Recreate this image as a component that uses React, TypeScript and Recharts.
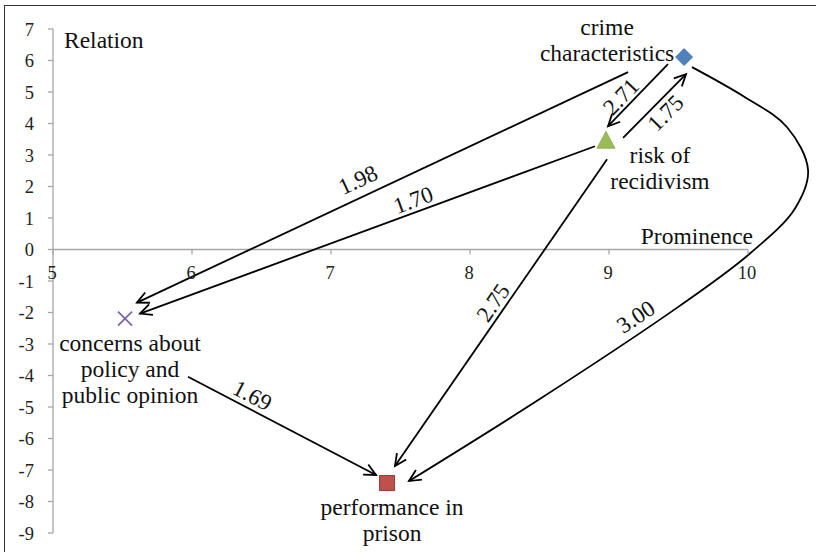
import React from 'react';
import { ComposedChart, XAxis, YAxis, Scatter, Line, ReferenceLine, ReferenceDot } from 'recharts';

// ---- data ----
const nodeNames = ['crime characteristics', 'risk of recidivism', 'concerns about policy and public opinion', 'performance in prison'];
const nodeLabelLines = [
  ['crime', 'characteristics'],
  ['risk of', 'recidivism'],
  ['concerns about', 'policy and', 'public opinion'],
  ['performance in', 'prison'],
];
const prominence = [9.54, 8.978, 5.518, 7.403];
const relation = [6.109, 3.468, -2.195, -7.413];

const xTicks = [5, 6, 7, 8, 9, 10];
const yTicks = [-9, -8, -7, -6, -5, -4, -3, -2, -1, 0, 1, 2, 3, 4, 5, 6, 7];

const edgeLabels = ['2.71', '1.75', '1.98', '1.70', '2.75', '1.69'];
const edgeStartX = [9.424, 9.101, 9.137, 8.899, 8.986, 5.971];
const edgeStartY = [5.886, 3.545, 5.632, 3.277, 2.863, -4.041];
const edgeEndX = [8.993, 9.554, 5.604, 5.626, 7.46, 7.324];
const edgeEndY = [3.913, 5.568, -1.686, -2.036, -6.872, -7.159];

const curveLabel = '3.00';
const curveX = [9.597, 9.978, 10.281, 10.432, 10.338, 10.014, 9.511, 8.482, 7.561];
const curveY = [5.791, 4.836, 3.881, 2.514, 1.304, -0.127, -1.782, -4.804, -7.35];

// ---- styles ----
const FONT = '"Liberation Serif", "Times New Roman", serif';
const AXIS = '#a6a6a6';
const edgeLabelPos = [
  { t: 0.65, d: 11 },
  { t: 0.53, d: -13 },
  { t: 0.535, d: 17 },
  { t: 0.39, d: 12 },
  { t: 0.49, d: 12 },
  { t: 0.31, d: 13 },
];
const nodeStyles = [
  { kind: 'diamond', color: '#4F81BD', dx: -77, dy: -30 },
  { kind: 'triangle', color: '#9BBB59', dx: 54, dy: 15 },
  { kind: 'x', color: '#8064A2', dx: 5, dy: 24 },
  { kind: 'square', color: '#C0504D', dx: 5, dy: 24 },
];

const curveData = curveX.map((x, i) => ({ x, y: curveY[i] }));

// Centripetal Catmull-Rom curve factory (d3-shape compatible interface)
function catmullRom(context: any) {
  let pts: number[][] = [];
  const alpha = 0.5;
  const eps = 1e-6;
  return {
    areaStart() {},
    areaEnd() {},
    lineStart() {
      pts = [];
    },
    point(x: number, y: number) {
      pts.push([+x, +y]);
    },
    lineEnd() {
      if (!pts.length) return;
      context.moveTo(pts[0][0], pts[0][1]);
      for (let i = 0; i < pts.length - 1; i++) {
        const p0 = pts[i - 1] || pts[i];
        const p1 = pts[i];
        const p2 = pts[i + 1];
        const p3 = pts[i + 2] || p2;
        const d01 = Math.hypot(p1[0] - p0[0], p1[1] - p0[1]);
        const d12 = Math.hypot(p2[0] - p1[0], p2[1] - p1[1]);
        const d23 = Math.hypot(p3[0] - p2[0], p3[1] - p2[1]);
        const l01a = Math.pow(d01, alpha);
        const l12a = Math.pow(d12, alpha);
        const l23a = Math.pow(d23, alpha);
        const l01 = l01a * l01a;
        const l12 = l12a * l12a;
        const l23 = l23a * l23a;
        let c1x = p1[0];
        let c1y = p1[1];
        let c2x = p2[0];
        let c2y = p2[1];
        if (l01a > eps) {
          const a = 2 * l01 + 3 * l01a * l12a + l12;
          const n = 3 * l01a * (l01a + l12a);
          c1x = (p1[0] * a - p0[0] * l12 + p2[0] * l01) / n;
          c1y = (p1[1] * a - p0[1] * l12 + p2[1] * l01) / n;
        }
        if (l23a > eps) {
          const b = 2 * l23 + 3 * l23a * l12a + l12;
          const m = 3 * l23a * (l23a + l12a);
          c2x = (p2[0] * b + p1[0] * l23 - p3[0] * l12) / m;
          c2y = (p2[1] * b + p1[1] * l23 - p3[1] * l12) / m;
        }
        context.bezierCurveTo(c1x, c1y, c2x, c2y, p2[0], p2[1]);
      }
    },
  };
}

function readableAngle(dx: number, dy: number) {
  let a = (Math.atan2(dy, dx) * 180) / Math.PI;
  if (a > 90) a -= 180;
  if (a < -90) a += 180;
  return a;
}

function makeEdgeShape(label: string | null, t: number, d: number, drawLine: boolean, drawHead: boolean) {
  return (p: any) => {
    const { x1, y1, x2, y2 } = p;
    const ang = Math.atan2(y2 - y1, x2 - x1);
    const L = 13;
    const w = 0.45;
    const hx1 = x2 - L * Math.cos(ang - w);
    const hy1 = y2 - L * Math.sin(ang - w);
    const hx2 = x2 - L * Math.cos(ang + w);
    const hy2 = y2 - L * Math.sin(ang + w);
    const rot = readableAngle(x2 - x1, y2 - y1);
    const r = (rot * Math.PI) / 180;
    const mx = x1 + (x2 - x1) * t + d * Math.sin(r);
    const my = y1 + (y2 - y1) * t - d * Math.cos(r);
    return (
      <g>
        {drawLine && <line x1={x1} y1={y1} x2={x2} y2={y2} stroke="#000" strokeWidth={1.8} />}
        {drawHead && (
          <polyline
            points={`${hx1},${hy1} ${x2},${y2} ${hx2},${hy2}`}
            fill="none"
            stroke="#000"
            strokeWidth={1.8}
          />
        )}
        {label && (
          <text
            x={mx}
            y={my}
            transform={`rotate(${rot} ${mx} ${my})`}
            textAnchor="middle"
            dominantBaseline="central"
            fontFamily={FONT}
            fontSize={23}
            fill="#111"
          >
            {label}
          </text>
        )}
      </g>
    );
  };
}

function makeMarkerShape(i: number) {
  const s = nodeStyles[i];
  return (p: any) => {
    const { cx, cy } = p;
    if (s.kind === 'diamond') {
      return (
        <polygon
          points={`${cx},${cy - 8.5} ${cx + 8.5},${cy} ${cx},${cy + 8.5} ${cx - 8.5},${cy}`}
          fill={s.color}
          stroke="#3f6fa8"
          strokeWidth={0.8}
        />
      );
    }
    if (s.kind === 'triangle') {
      return (
        <polygon
          points={`${cx},${cy - 9} ${cx + 9},${cy + 8} ${cx - 9},${cy + 8}`}
          fill={s.color}
          stroke="#8aa94c"
          strokeWidth={0.8}
        />
      );
    }
    if (s.kind === 'x') {
      return (
        <g stroke={s.color} strokeWidth={1.8}>
          <line x1={cx - 7} y1={cy - 7} x2={cx + 7} y2={cy + 7} />
          <line x1={cx - 7} y1={cy + 7} x2={cx + 7} y2={cy - 7} />
        </g>
      );
    }
    return <rect x={cx - 7.5} y={cy - 7.5} width={15} height={15} fill={s.color} stroke="#9e3b38" strokeWidth={1} />;
  };
}

function makeNodeLabel(i: number) {
  const s = nodeStyles[i];
  return (p: any) => (
    <g>
      {nodeLabelLines[i].map((ln, k) => (
        <text
          key={k}
          x={p.cx + s.dx}
          y={p.cy + s.dy + k * 26}
          textAnchor="middle"
          dominantBaseline="central"
          fontFamily={FONT}
          fontSize={23.5}
          fill="#111"
        >
          {ln}
        </text>
      ))}
    </g>
  );
}

const xTickShape = (v: number) => (p: any) => (
  <g>
    <line x1={p.cx} y1={p.cy} x2={p.cx} y2={p.cy + 5} stroke={AXIS} strokeWidth={1.3} />
    <text x={p.cx - 1} y={p.cy + 23} textAnchor="middle" dominantBaseline="central" fontFamily={FONT} fontSize={18.5} fill="#222">
      {v}
    </text>
  </g>
);

export default function App() {
  return (
    <div style={{ position: 'absolute', left: 0, top: 0, width: 816, height: 552, background: '#fff' }}>
      <div
        style={{
          position: 'absolute',
          left: 4,
          top: 5,
          width: 812,
          height: 547,
          borderTop: '1.5px solid #333',
          borderLeft: '1.5px solid #333',
        }}
      />
      <div style={{ position: 'absolute', left: 0, top: 0 }}>
        <ComposedChart width={816} height={552} margin={{ top: 29, right: 0, bottom: 19, left: 13 }}>
          <XAxis dataKey="x" type="number" domain={[5, 10.489]} hide />
          <YAxis
            dataKey="y"
            type="number"
            domain={[-9, 7]}
            ticks={yTicks}
            interval={0}
            width={40}
            tickSize={5}
            tickMargin={14}
            axisLine={{ stroke: AXIS, strokeWidth: 1.3 }}
            tickLine={{ stroke: AXIS, strokeWidth: 1.3 }}
            tick={{ fill: '#222', fontSize: 18.5, fontFamily: FONT }}
          />
          <ReferenceLine segment={[{ x: 5, y: 0 }, { x: 10, y: 0 }]} stroke={AXIS} strokeWidth={1.3} />
          {xTicks.map((v) => (
            <ReferenceDot key={'xt' + v} x={v} y={0} shape={xTickShape(v)} />
          ))}
          <ReferenceDot
            x={5}
            y={7}
            shape={(p: any) => (
              <text x={p.cx + 11} y={p.cy + 11} dominantBaseline="central" fontFamily={FONT} fontSize={23.5} fill="#111">
                Relation
              </text>
            )}
          />
          <ReferenceDot
            x={10}
            y={0}
            shape={(p: any) => (
              <text x={p.cx + 5} y={p.cy - 14} textAnchor="end" dominantBaseline="central" fontFamily={FONT} fontSize={23.5} fill="#111">
                Prominence
              </text>
            )}
          />
          {edgeLabels.map((lab, i) => (
            <ReferenceLine
              key={'e' + i}
              segment={[
                { x: edgeStartX[i], y: edgeStartY[i] },
                { x: edgeEndX[i], y: edgeEndY[i] },
              ]}
              shape={makeEdgeShape(lab, edgeLabelPos[i].t, edgeLabelPos[i].d, true, true)}
            />
          ))}
          <Line
            data={curveData}
            dataKey="y"
            type={catmullRom as any}
            stroke="#000"
            strokeWidth={1.8}
            dot={false}
            activeDot={false}
            legendType="none"
            isAnimationActive={false}
          />
          <ReferenceLine
            segment={[
              { x: curveX[curveX.length - 2], y: curveY[curveY.length - 2] },
              { x: curveX[curveX.length - 1], y: curveY[curveY.length - 1] },
            ]}
            shape={makeEdgeShape(null, 0, 0, false, true)}
          />
          <ReferenceLine
            segment={[
              { x: curveX[6], y: curveY[6] },
              { x: curveX[7], y: curveY[7] },
            ]}
            shape={makeEdgeShape(curveLabel, 0.25, 15, false, false)}
          />
          {nodeNames.map((n, i) => (
            <Scatter
              key={n}
              name={n}
              data={[{ x: prominence[i], y: relation[i] }]}
              dataKey="y"
              shape={makeMarkerShape(i)}
              isAnimationActive={false}
            />
          ))}
          {nodeNames.map((n, i) => (
            <ReferenceDot key={'nl' + i} x={prominence[i]} y={relation[i]} shape={makeNodeLabel(i)} />
          ))}
        </ComposedChart>
      </div>
    </div>
  );
}
